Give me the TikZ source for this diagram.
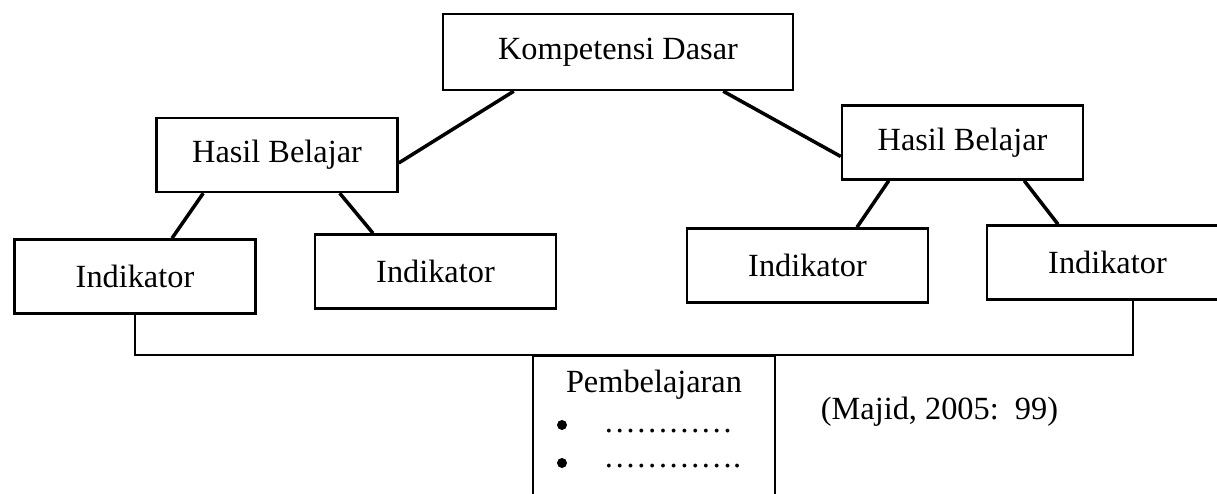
\documentclass[tikz,border=0pt]{standalone}
\usepackage{fontspec}
\setmainfont{Liberation Serif}
\begin{document}
\begin{tikzpicture}[
    box/.style={draw, line width=.7pt, minimum width=2.41cm, minimum height=.74cm, inner sep=0pt},
    link/.style={line width=1pt},
    font=\fontsize{9.2}{11}\selectfont]
  \useasboundingbox (0,0) rectangle (12.17,4.94);
  \clip (0,0) rectangle (12.17,4.94);
  % top of the tree
  \node [box, minimum width=3.5cm, minimum height=.76cm] (kd) at (6.18,4.42) {Kompetensi Dasar};
  \node [box] (hbl) at (2.77,3.39) {Hasil Belajar};
  \node [box] (hbr) at (9.625,3.515) {Hasil Belajar};
  \node [box] (i1) at (1.35,2.175) {Indikator};
  \node [box] (i2) at (4.355,2.225) {Indikator};
  \node [box] (i3) at (8.075,2.285) {Indikator};
  \node [box] (i4) at (11.075,2.315) {Indikator};
  \draw [link] ([xshift=.72cm]kd.south west) -- ([yshift=-.08cm]hbl.east);
  \draw [link] ([xshift=-.71cm]kd.south east) -- ([yshift=-.14cm]hbr.west);
  \draw [link] ([xshift=.48cm]hbl.south west) -- ([xshift=.37cm]i1.north);
  \draw [link] ([xshift=-.59cm]hbl.south east) -- ([xshift=-.625cm]i2.north);
  \draw [link] ([xshift=.48cm]hbr.south west) -- ([xshift=.495cm]i3.north);
  \draw [link] ([xshift=-.6cm]hbr.south east) -- ([xshift=-.495cm]i4.north);
  % learning box at the bottom
  \node [box, minimum width=2.42cm, minimum height=1.7cm, anchor=north] (pb) at (6.54,1.39) {};
  \draw [box] (i1.south) |- (pb.north) -| ([xshift=.255cm]i4.south);
  \node [anchor=base] (pbt) at (6.54,1.01) {Pembelajaran};
  \node [circle, fill, inner sep=0pt, minimum size=1mm] (b1) at (5.62,.69) {};
  \node [circle, fill, inner sep=0pt, minimum size=1mm] (b2) at (5.62,.31) {};
  \node [anchor=base west, inner sep=0pt] (d1) at (6.03,.61) {…………};
  \node [anchor=base west, inner sep=0pt] (d2) at (6.03,.26) {………….};
  \node [anchor=base] (src) at (9.395,.74) {(Majid, 2005:\ \ 99)};
\end{tikzpicture}
\end{document}
